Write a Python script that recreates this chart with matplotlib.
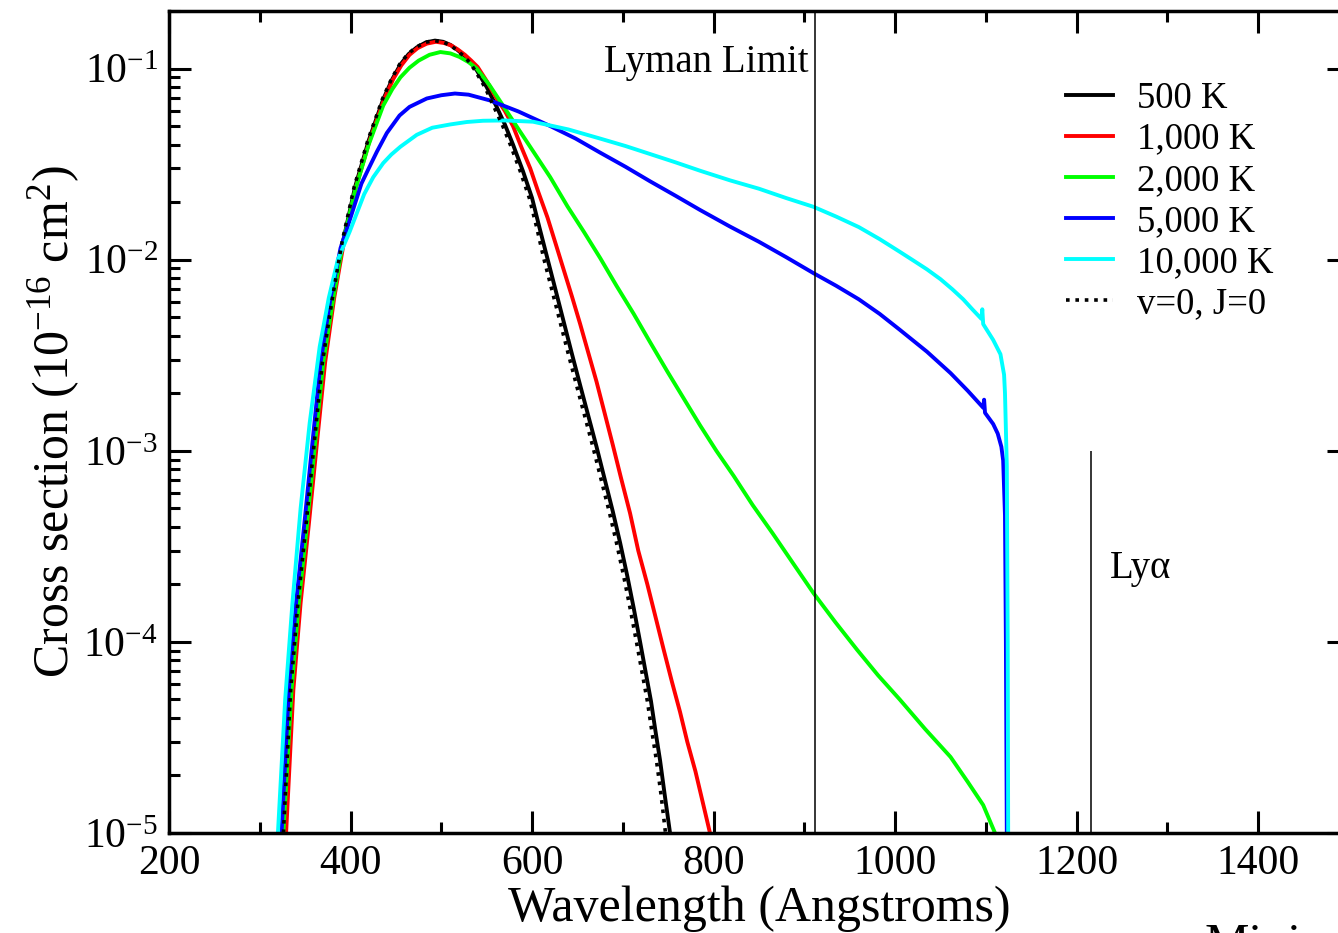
import math
import matplotlib
matplotlib.use("Agg")
import matplotlib.pyplot as plt
from matplotlib.ticker import FixedLocator, LogLocator, FuncFormatter, NullFormatter

plt.rcParams['font.family'] = ['Liberation Serif', 'DejaVu Serif']
plt.rcParams['mathtext.fontset'] = 'custom'
plt.rcParams['mathtext.rm'] = 'Liberation Serif'
plt.rcParams['mathtext.it'] = 'Liberation Serif:italic'

# cross sections in units of 1e-16 cm^2, wavelength in Angstroms
lam_500 = [327, 335, 343, 352, 361, 370, 381, 392, 405, 420, 436, 446, 455, 464, 473, 483,
           493, 502, 510, 517, 525, 532, 539, 550, 561, 570, 579, 590, 600, 608, 617, 626,
           635, 644, 653, 662, 671, 680, 689, 697, 705, 712, 719, 725, 731, 736, 741, 746, 752]
sig_500 = [1.0e-5, 5.6e-5, 1.6e-4, 4.1e-4, 1.1e-3, 2.9e-3, 6.3e-3, 1.26e-2, 2.4e-2, 4.2e-2,
           6.9e-2, 0.088, 0.105, 0.119, 0.129, 0.137, 0.140, 0.138, 0.133, 0.126, 0.117,
           0.108, 0.098, 0.080, 0.063, 0.051, 0.040, 0.029, 0.021, 0.0148, 0.0101, 6.9e-3,
           4.7e-3, 3.2e-3, 2.2e-3, 1.52e-3, 1.05e-3, 7.1e-4, 4.8e-4, 3.3e-4, 2.2e-4, 1.5e-4,
           1.0e-4, 7.0e-5, 4.9e-5, 3.4e-5, 2.4e-5, 1.6e-5, 1.0e-5]

lam_1000 = [329, 337, 345, 354, 363, 372, 382, 393, 406, 421, 437, 447, 456, 465, 474, 484,
            494, 503, 511, 518, 526, 533, 540, 550, 560, 570, 579, 588, 598, 607, 617, 626,
            635, 644, 653, 662, 671, 680, 689, 698, 708, 717, 727, 736, 745, 754, 763, 771,
            780, 788, 796]
sig_1000 = [1.0e-5, 5.6e-5, 1.6e-4, 4.1e-4, 1.1e-3, 2.9e-3, 6.3e-3, 1.26e-2, 2.4e-2, 4.2e-2,
            6.9e-2, 0.088, 0.104, 0.118, 0.128, 0.135, 0.138, 0.136, 0.132, 0.126, 0.118,
            0.110, 0.102, 0.086, 0.071, 0.060, 0.050, 0.039, 0.030, 0.0225, 0.0166, 0.0121,
            8.8e-3, 6.4e-3, 4.6e-3, 3.25e-3, 2.3e-3, 1.57e-3, 1.07e-3, 7.2e-4, 4.7e-4,
            3.0e-4, 2.0e-4, 1.35e-4, 9.1e-5, 6.2e-5, 4.3e-5, 3.0e-5, 2.1e-5, 1.45e-5, 1.0e-5]

lam_2000 = [326, 335, 343, 352, 361, 370, 381, 392, 405, 420, 436, 446, 455, 465, 475, 487,
            499, 510, 520, 530, 539, 553, 568, 584, 601, 620, 639, 657, 675, 693, 712, 730,
            749, 767, 785, 803, 822, 843, 865, 887, 910, 934, 958, 981, 1005, 1033, 1061,
            1080, 1097, 1110]
sig_2000 = [1.0e-5, 5.6e-5, 1.6e-4, 4.1e-4, 1.1e-3, 2.9e-3, 6.3e-3, 1.25e-2, 2.3e-2, 4.0e-2,
            6.4e-2, 0.078, 0.090, 0.101, 0.110, 0.118, 0.122, 0.120, 0.115, 0.108, 0.100,
            0.082, 0.064, 0.049, 0.037, 0.027, 0.019, 0.014, 0.0102, 7.3e-3, 5.2e-3,
            3.7e-3, 2.6e-3, 1.88e-3, 1.36e-3, 1.0e-3, 7.4e-4, 5.2e-4, 3.7e-4, 2.6e-4,
            1.8e-4, 1.27e-4, 9.1e-5, 6.7e-5, 5.0e-5, 3.5e-5, 2.5e-5, 1.85e-5, 1.4e-5, 1.0e-5]

lam_5000 = [324, 332, 340, 349, 358, 367, 378, 389, 400, 412, 420, 429, 440, 454, 465, 484,
            500, 515, 530, 554, 585, 620, 648, 675, 703, 730, 758, 785, 818, 850, 880, 910,
            935, 960, 983, 1005, 1035, 1061, 1080, 1097, 1098, 1099, 1108, 1113, 1117, 1119,
            1121, 1122, 1123]
sig_5000 = [1.0e-5, 5.6e-5, 1.6e-4, 4.1e-4, 1.1e-3, 2.9e-3, 6.3e-3, 1.15e-2, 1.66e-2, 2.5e-2,
            3.0e-2, 3.67e-2, 4.6e-2, 5.68e-2, 6.3e-2, 6.97e-2, 7.25e-2, 7.4e-2, 7.3e-2,
            6.8e-2, 5.96e-2, 5.0e-2, 4.3e-2, 3.63e-2, 3.06e-2, 2.57e-2, 2.16e-2, 1.82e-2,
            1.49e-2, 1.24e-2, 1.03e-2, 8.5e-3, 7.3e-3, 6.2e-3, 5.2e-3, 4.3e-3, 3.3e-3,
            2.55e-3, 2.06e-3, 1.68e-3, 1.85e-3, 1.58e-3, 1.38e-3, 1.23e-3, 1.05e-3, 8.9e-4,
            4.6e-4, 1.0e-4, 1.0e-5]

lam_10000 = [320, 328, 336, 345, 355, 366, 376, 386, 399, 415, 425, 436, 445, 455, 473, 490,
             510, 528, 546, 570, 601, 640, 675, 703, 730, 758, 785, 818, 850, 880, 910, 935,
             960, 983, 1005, 1020, 1035, 1050, 1063, 1075, 1085, 1095, 1096, 1097, 1108, 1116,
             1120, 1121, 1123, 1124, 1124.5]
sig_10000 = [1.0e-5, 5.0e-5, 1.6e-4, 5.0e-4, 1.4e-3, 3.5e-3, 6.3e-3, 1.0e-2, 1.4e-2, 2.2e-2,
             2.7e-2, 3.2e-2, 3.55e-2, 3.9e-2, 4.5e-2, 4.9e-2, 5.1e-2, 5.25e-2, 5.33e-2,
             5.35e-2, 5.27e-2, 4.8e-2, 4.3e-2, 3.93e-2, 3.57e-2, 3.23e-2, 2.92e-2, 2.6e-2,
             2.35e-2, 2.1e-2, 1.89e-2, 1.68e-2, 1.48e-2, 1.28e-2, 1.1e-2, 9.9e-3, 8.9e-3,
             7.9e-3, 7.0e-3, 6.2e-3, 5.5e-3, 4.9e-3, 5.5e-3, 4.6e-3, 3.8e-3, 3.2e-3, 2.5e-3,
             2.0e-3, 8.3e-4, 1.0e-4, 1.0e-5]

lam_v0 = [326, 334, 342, 351, 360, 369, 380, 391, 404, 419, 435, 445, 454, 463, 472, 482,
          492, 501, 509, 516, 524, 531, 537, 548, 558, 567, 576, 587, 597, 605, 613, 622,
          631, 640, 649, 658, 667, 676, 685, 693, 701, 708, 715, 721, 727, 732, 737, 742, 747]
sig_v0 = [1.0e-5, 5.6e-5, 1.6e-4, 4.1e-4, 1.1e-3, 2.9e-3, 6.3e-3, 1.26e-2, 2.4e-2, 4.2e-2,
          6.9e-2, 0.088, 0.105, 0.119, 0.129, 0.137, 0.140, 0.138, 0.133, 0.126, 0.117,
          0.108, 0.098, 0.080, 0.063, 0.051, 0.040, 0.029, 0.021, 0.0148, 0.0101, 6.9e-3,
          4.7e-3, 3.2e-3, 2.2e-3, 1.52e-3, 1.05e-3, 7.1e-4, 4.8e-4, 3.3e-4, 2.2e-4, 1.5e-4,
          1.0e-4, 7.0e-5, 4.9e-5, 3.4e-5, 2.4e-5, 1.6e-5, 1.0e-5]

labels = ["500 K", "1,000 K", "2,000 K", "5,000 K", "10,000 K", "v=0, J=0"]
lyman_limit = 912
lyman_alpha = 1216

fig = plt.figure(figsize=(13.38, 9.33), dpi=100)
ax = fig.add_axes([169/1338, 100/933, 1180/1338, 822/933])

lw = 2.8
ax.plot(lam_500, sig_500, color='black', lw=lw, label=labels[0])
ax.plot(lam_1000, sig_1000, color='#ff0000', lw=lw, label=labels[1])
ax.plot(lam_2000, sig_2000, color='#00ff00', lw=lw, label=labels[2])
ax.plot(lam_5000, sig_5000, color='#0000ff', lw=lw, label=labels[3])
ax.plot(lam_10000, sig_10000, color='#00ffff', lw=lw, label=labels[4])
ax.plot(lam_v0, sig_v0, color='black', lw=2.6, ls=(0, (1, 1.6)), label=labels[5])

ax.axvline(lyman_limit, color='black', lw=1.1)
ax.vlines(lyman_alpha, 1e-5, 1e-3, color='black', lw=1.1)
ax.text(904, 0.0964, "Lyman Limit", fontsize=28, ha='right', va='baseline')
ax.text(1237, 2.17e-4, "Ly\u03b1", fontsize=28, ha='left', va='baseline')

ax.set_yscale('log')
ax.set_xlim(200, 1500)
ax.set_ylim(1e-5, 0.2)

ax.xaxis.set_major_locator(FixedLocator(range(200, 1501, 200)))
ax.xaxis.set_minor_locator(FixedLocator(range(300, 1500, 200)))
ax.yaxis.set_major_locator(LogLocator(base=10, numticks=20))
ax.yaxis.set_minor_locator(LogLocator(base=10, subs=range(2, 10), numticks=20))
ax.yaxis.set_minor_formatter(NullFormatter())
ax.yaxis.set_major_formatter(FuncFormatter(
    lambda v, p: r'$\mathregular{10^{%d}}$' % round(math.log10(v))))

ax.tick_params(which='both', direction='in', top=True, right=True, width=2.2)
ax.tick_params(which='major', length=16, labelsize=30, pad=8)
ax.tick_params(which='minor', length=8)
for s in ax.spines.values():
    s.set_linewidth(2.5)

ax.set_xlabel("Wavelength (Angstroms)", fontsize=36, labelpad=2)
ax.set_ylabel(r"Cross section (10$^{-16}$ cm$^{2}$)", fontsize=36)
ax.yaxis.set_label_coords(-0.074, 0.5)

ax.legend(loc='upper left', bbox_to_anchor=(1066/1338, 1 - 81/933),
          bbox_transform=fig.transFigure, frameon=False, fontsize=26.5,
          handlelength=1.28, handletextpad=0.65, labelspacing=0.18, borderpad=0,
          borderaxespad=0)

fig.text(1205/1338, 1 - 922/933, "Mini", fontsize=36, va='top', ha='left')

fig.savefig("out.png", dpi=100)
